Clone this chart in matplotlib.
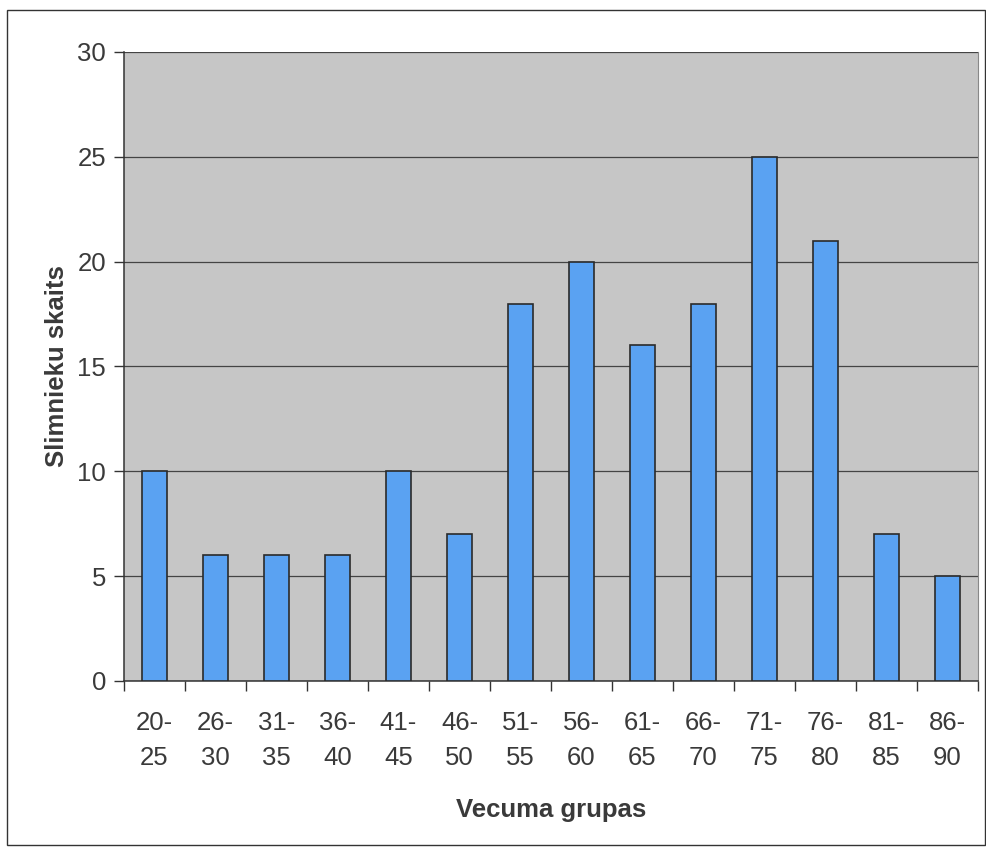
import matplotlib.pyplot as plt
import matplotlib as mpl
import numpy as np

mpl.rcParams['font.family'] = ['Liberation Sans', 'DejaVu Sans']

# dati
groups = ["20-\n25", "26-\n30", "31-\n35", "36-\n40", "41-\n45", "46-\n50", "51-\n55",
          "56-\n60", "61-\n65", "66-\n70", "71-\n75", "76-\n80", "81-\n85", "86-\n90"]
counts = [10, 6, 6, 6, 10, 7, 18, 20, 16, 18, 25, 21, 7, 5]
yticks = [0, 5, 10, 15, 20, 25, 30]

fig = plt.figure(figsize=(9.86, 8.48), dpi=100)
ax = fig.add_axes([0.1258, 0.197, 0.866, 0.7417])
ax.set_facecolor('#c6c6c6')

x = np.arange(len(groups))
ax.bar(x, counts, width=0.4, color='#5aa2f2', edgecolor='#2a2a2a', linewidth=1.2, zorder=3)

ax.set_xlim(-0.5, len(groups) - 0.5)
ax.set_ylim(0, 30)
ax.set_yticks(yticks)
ax.yaxis.grid(True, color='#444444', linewidth=0.9, zorder=1)
ax.set_axisbelow(True)

# ticks at category boundaries
ax.set_xticks(np.arange(len(groups) + 1) - 0.5)
ax.set_xticklabels([])
ax.set_xticks(x, minor=True)
ax.set_xticklabels(groups, minor=True, fontsize=18.5, color='#3a3a3a', linespacing=1.55)
ax.tick_params(axis='x', which='minor', length=0, pad=22)
ax.tick_params(axis='x', which='major', length=7, width=1, color='#333333')
ax.tick_params(axis='y', length=7, width=1, color='#333333', labelsize=18.5,
               labelcolor='#3a3a3a', pad=6)

for s in ['left', 'bottom']:
    ax.spines[s].set_color('#333333')
    ax.spines[s].set_linewidth(1.1)
ax.spines['top'].set_visible(False)
ax.spines['right'].set_color('#888888')
ax.spines['right'].set_linewidth(0.8)

ax.set_ylabel("Slimnieku skaits", fontsize=18.5, fontweight='bold', color='#3a3a3a', labelpad=6)
ax.set_xlabel("Vecuma grupas", fontsize=18.5, fontweight='bold', color='#3a3a3a', labelpad=20)

# rāmis ap attēlu
frame = plt.Rectangle((0.007, 0.004), 0.992, 0.984, transform=fig.transFigure,
                      fill=False, edgecolor='#333333', linewidth=1.0)
fig.patches.append(frame)

plt.savefig("out.png", dpi=100)
plt.close()
